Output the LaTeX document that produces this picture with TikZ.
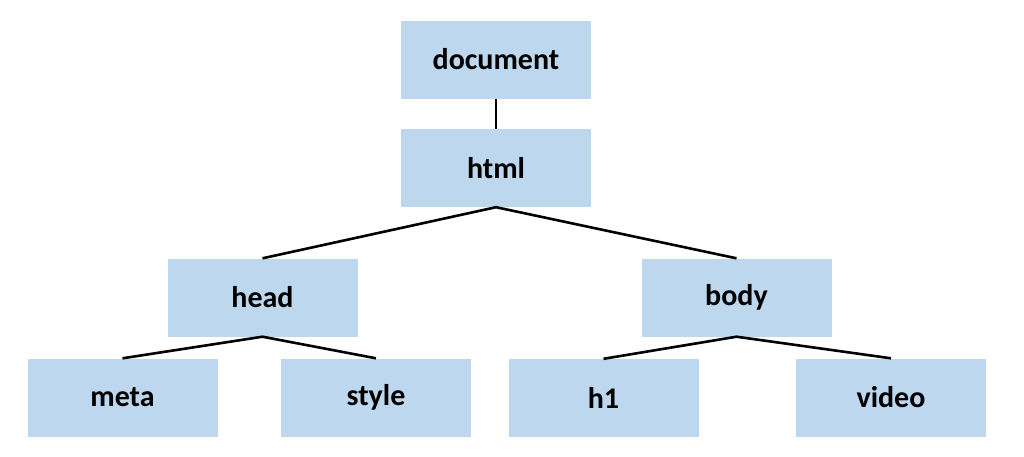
\documentclass[tikz,border=0pt]{standalone}
\usepackage{fontspec}
\setmainfont{Carlito}
\definecolor{boxblue}{HTML}{BDD7EE}
\begin{document}
\begin{tikzpicture}[x=1pt,y=-1pt,
  treebox/.style={rectangle, fill=boxblue, minimum width=190pt, minimum height=78pt, inner sep=0pt, font=\fontsize{30}{34}\selectfont\bfseries},
  link/.style={draw=black, line width=2.6pt}]
\useasboundingbox (0,0) rectangle (1024,456);
\node[treebox] (document) at (496,59.5) {document};
\node[treebox] (html) at (496,168) {html};
\node[treebox] (head) at (262.5,297.5) {head};
\node[treebox] (body) at (736.5,297.5) {body};
\node[treebox] (meta) at (122.5,397.5) {meta};
\node[treebox] (style) at (376,397.5) {style};
\node[treebox] (h1) at (603.5,398) {h1};
\node[treebox] (video) at (891,397.5) {video};
\draw[link] (document.south) -- (html.north);
\draw[link] (head.north) -- (html.south) -- (body.north);
\draw[link] (meta.north) -- (head.south) -- (style.north);
\draw[link] (h1.north) -- (body.south) -- (video.north);
\end{tikzpicture}
\end{document}
